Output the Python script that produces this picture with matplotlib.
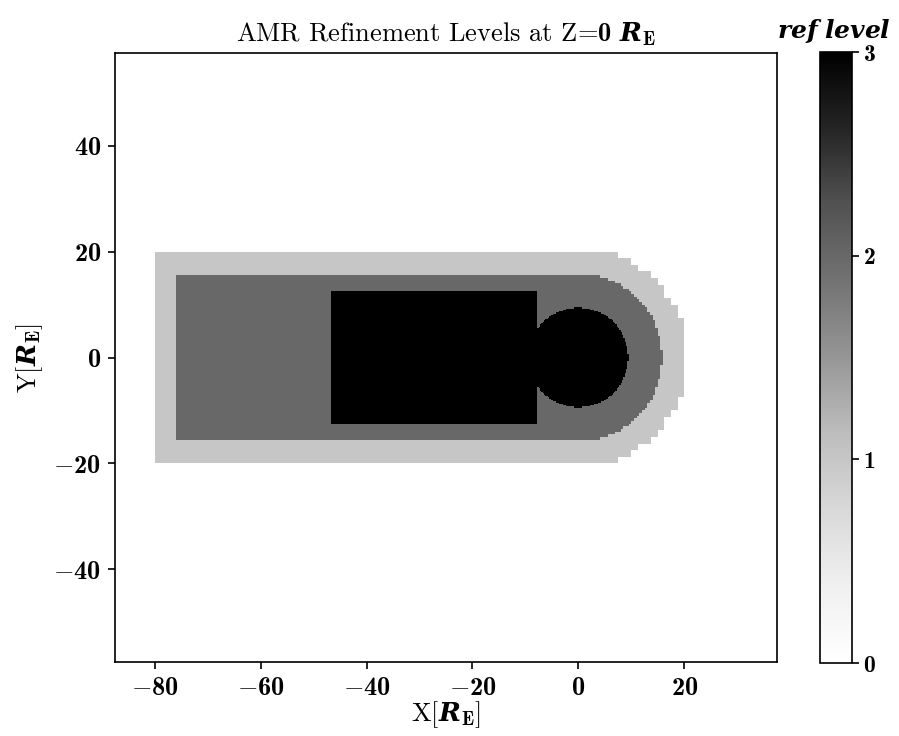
import numpy as np
import matplotlib
matplotlib.use("Agg")
import matplotlib.pyplot as plt
from matplotlib.ticker import FuncFormatter

plt.rcParams['font.family'] = ['cmr10', 'DejaVu Serif']
plt.rcParams['mathtext.fontset'] = 'custom'
plt.rcParams['mathtext.rm'] = 'cmr10'
plt.rcParams['mathtext.it'] = 'cmmi10'
plt.rcParams['mathtext.bf'] = 'cmb10'
plt.rcParams['mathtext.bfit'] = 'DejaVu Serif:italic:bold'
plt.rcParams['axes.formatter.use_mathtext'] = True

# refinement regions (R_E)
level_values = [1, 2, 3]
# level 1: tail box + dayside disk
l1_box = [-80.0, 0.0, -20.0, 20.0]     # xmin, xmax, ymin, ymax
l1_radius = 20.6
l1_cell = 1.25
# level 2: tail box + dayside disk
l2_box = [-76.2, 0.0, -15.7, 15.7]
l2_radius = 15.8
l2_cell = 0.5
# level 3: box + inner disk
l3_box = [-46.8, -7.7, -12.5, 12.6]
l3_radius = 9.4
l3_cell = 0.25

xticks = [-80, -60, -40, -20, 0, 20]
yticks = [-40, -20, 0, 20, 40]
cbar_ticks = [0, 1, 2, 3]
xlim = (-87.5, 37.5)
ylim = (-57.5, 57.5)

step = 0.25
xs = np.arange(-90, 40, step) + step / 2
ys = np.arange(-60, 60, step) + step / 2
X, Y = np.meshgrid(xs, ys)


def snap(a, c):
    return (np.floor(a / c) + 0.5) * c


def region(box, radius, cell, clip_y=True):
    xc, yc = snap(X, cell), snap(Y, cell)
    inbox = (xc >= box[0]) & (xc <= box[1]) & (yc >= box[2]) & (yc <= box[3])
    indisk = xc ** 2 + yc ** 2 <= radius ** 2
    if clip_y:
        indisk &= (yc >= box[2]) & (yc <= box[3])
    return inbox | indisk


lev = np.zeros_like(X)
lev[region(l1_box, l1_radius, l1_cell)] = level_values[0]
lev[region(l2_box, l2_radius, l2_cell)] = level_values[1]
xc, yc = snap(X, l3_cell), snap(Y, l3_cell)
in3 = ((xc >= l3_box[0]) & (xc <= l3_box[1]) & (yc >= l3_box[2]) & (yc <= l3_box[3])) | \
      (xc ** 2 + yc ** 2 <= l3_radius ** 2)
lev[in3] = level_values[2]

fig = plt.figure(figsize=(8.99, 7.36), dpi=100)
ax = fig.add_axes([115 / 899, 1 - 663 / 736, 662 / 899, 611 / 736])
cax = fig.add_axes([820 / 899, 1 - 663 / 736, 32 / 899, 611 / 736])

edges_x = np.arange(-90, 40 + step / 2, step)
edges_y = np.arange(-60, 60 + step / 2, step)
pm = ax.pcolormesh(edges_x, edges_y, lev, cmap='Greys', vmin=0, vmax=3, shading='flat')
ax.set_xlim(*xlim)
ax.set_ylim(*ylim)
ax.set_aspect('equal')
ax.set_xticks(xticks)
ax.set_yticks(yticks)
fmt = FuncFormatter(lambda v, p: r'$\mathbf{%d}$' % v if v >= 0 else r'$\mathbf{-%d}$' % (-v))
ax.xaxis.set_major_formatter(fmt)
ax.yaxis.set_major_formatter(fmt)
ax.tick_params(labelsize=19, width=1.2, length=5, pad=5)
for s in ax.spines.values():
    s.set_linewidth(1.2)

ax.set_xlabel(r'X[$\mathbfit{R}_{\mathbf{E}}$]', fontsize=19, labelpad=0)
ax.set_ylabel(r'Y[$\mathbfit{R}_{\mathbf{E}}$]', fontsize=19, labelpad=6)
ax.set_title(r'AMR Refinement Levels at Z=$\mathbf{0}$ $\mathbfit{R}_{\mathbf{E}}$', fontsize=19, pad=8)

cb = fig.colorbar(pm, cax=cax, ticks=cbar_ticks)
cb.ax.yaxis.set_major_formatter(fmt)
cb.ax.tick_params(labelsize=17, width=1.2, length=5, pad=3)
cb.outline.set_linewidth(1.2)
cax.set_title(r'$\mathbfit{ref\ level}$', fontsize=18, pad=10, x=0.45)

fig.savefig('out.png', dpi=100)
